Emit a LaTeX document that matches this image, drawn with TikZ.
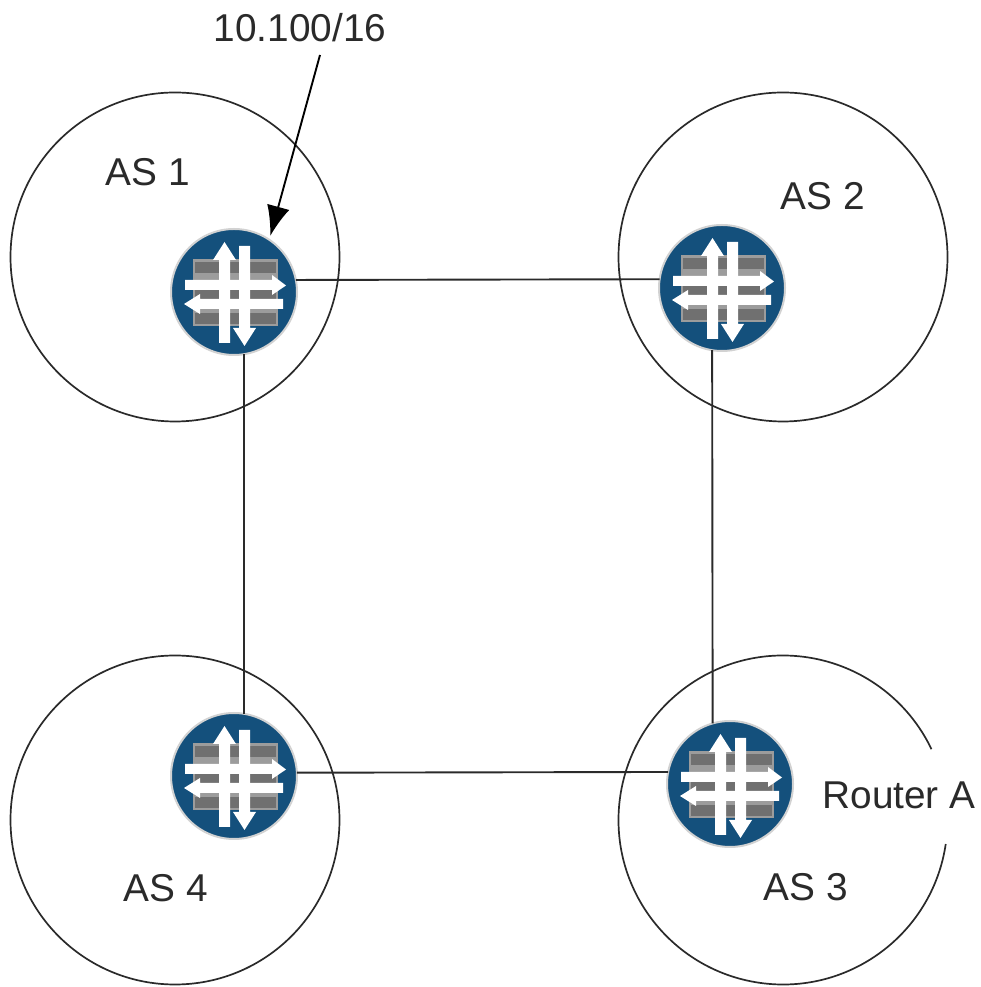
\documentclass[tikz,border=0pt]{standalone}
\usepackage{fontspec}
\setmainfont{Liberation Sans}
\usetikzlibrary{arrows.meta,calc}
\definecolor{routerblue}{HTML}{14507C}
\definecolor{brickdark}{HTML}{707070}
\definecolor{bricklight}{HTML}{9C9C9C}
\definecolor{inkgray}{HTML}{2A2A2A}
\tikzset{
  ascircle/.style={draw=inkgray, line width=1.7pt, circle, minimum size=329pt, inner sep=0pt, outer sep=0pt},
  asarc/.style={draw=inkgray, line width=1.7pt},
  router/.style={circle, fill=routerblue, draw=gray!35, line width=2pt, minimum size=126pt, inner sep=0pt, outer sep=0pt},
  link/.style={draw=inkgray, line width=1.9pt},
  lab/.style={text=inkgray, font=\fontsize{38.8}{46}\selectfont, inner sep=0pt},
  routericon/.pic={
    \fill[bricklight] (-41,-34) rectangle (44,33);
    \fill[brickdark] (-39,19) rectangle (42,30);
    \fill[brickdark] (-39,-7) rectangle (42,2);
    \fill[brickdark] (-39,-32) rectangle (42,-21);
    \fill[white] (-15,-51) -- (-4,-51) -- (-4,32) -- (2,32) -- (-9.5,50) -- (-21,32) -- (-15,32) -- cycle;
    \fill[white] (5,46) -- (16,46) -- (16,-36) -- (22,-36) -- (10.5,-54) -- (-1,-36) -- (5,-36) -- cycle;
    \fill[white] (-49,12) -- (38,12) -- (38,17) -- (52,6.5) -- (38,-3) -- (38,2) -- (-49,2) -- cycle;
    \fill[white] (49,-7) -- (-34,-7) -- (-34,-2) -- (-50,-12) -- (-34,-22) -- (-34,-17) -- (49,-17) -- cycle;
  }
}
\begin{document}
\begin{tikzpicture}[x=1pt,y=1pt]
\useasboundingbox (0,0) rectangle (981,987);
% autonomous systems
\node[ascircle] (as1) at (175,730) {};
\node[ascircle] (as2) at (783,730) {};
\node[ascircle] (as4) at (175,167) {};
\coordinate (as3) at (783,167);
\draw[asarc] ($(as3)+(-8.4:164.5)$) arc[start angle=-8.4, end angle=-334.5, radius=164.5];
% routers
\node[router] (r1) at (234,695) {};
\node[router] (r2) at (722,699) {};
\node[router] (r4) at (234,211) {};
\node[router] (r3) at (730,203) {};
\pic at (r1) {routericon};
\pic at (r2) {routericon};
\pic at (r4) {routericon};
\pic at (r3) {routericon};
% links
\draw[link] (r1.11) -- (r2.172.7);
\draw[link] (r1.-81) -- (r4.81);
\draw[link] (r2.-99) -- (r3.106.6);
\draw[link] (r4.3.6) -- (r3.169);
% labels
\node[lab] (as1lab) at (148,815) {AS 1};
\node[lab] (as2lab) at (823,791) {AS 2};
\node[lab] (as3lab) at (806,100) {AS 3};
\node[lab] (as4lab) at (166,99) {AS 4};
\node[lab] (routera) at (899,192) {Router A};
\node[lab] (prefix) at (300,959) {10.100/16};
\coordinate (prefixend) at (320,932);
\draw[link, draw=black, -{Latex[length=30pt,width=23pt]}, shorten >=4pt] (prefixend) -- (r1.56);
\end{tikzpicture}
\end{document}
